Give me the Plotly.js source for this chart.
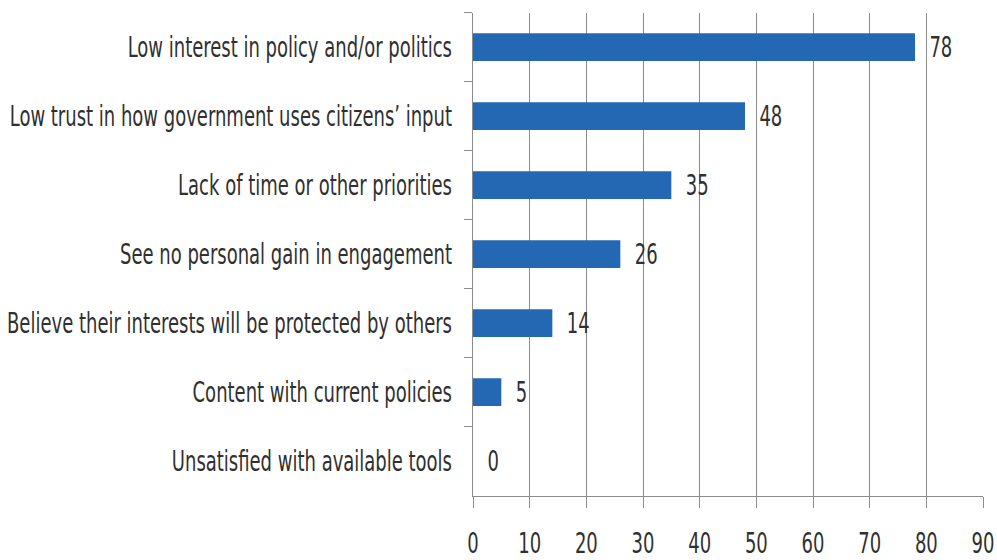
<!DOCTYPE html>
<html>
<head>
<meta charset="utf-8">
<script src="https://cdn.plot.ly/plotly-3.0.1.min.js"></script>
<style>
html,body{margin:0;padding:0;background:#fff;}
html{overflow:hidden;}
body{width:997px;height:560px;}
#chart{width:997px;height:400px;transform:scaleY(1.4);transform-origin:0 0;}
</style>
</head>
<body>
<div id="chart"></div>
<script>
var categories = [
  "Low interest in policy and/or politics",
  "Low trust in how government uses citizens’ input",
  "Lack of time or other priorities",
  "See no personal gain in engagement",
  "Believe their interests will be protected by others",
  "Content with current policies",
  "Unsatisfied with available tools"
];
var values = [78, 48, 35, 26, 14, 5, 0];
var xTicks = [0, 10, 20, 30, 40, 50, 60, 70, 80, 90];

var FONT = '"DejaVu Sans Condensed", "Liberation Sans Narrow", "Open Sans", sans-serif';
var TXT = '#303030';
var LINE = '#8c8c8c';

var trace = {
  type: 'bar',
  orientation: 'h',
  y: categories,
  x: values,
  text: values.map(function(v){ return '\u00a0\u00a0' + v; }),
  textposition: 'outside',
  constraintext: 'none',
  cliponaxis: false,
  textfont: {family: FONT, size: 20, color: TXT},
  marker: {color: '#2468B4', line: {width: 0}},
  hoverinfo: 'none'
};

var layout = {
  width: 997,
  height: 400,
  margin: {l: 473, r: 14, t: 8.6, b: 45.7},
  paper_bgcolor: '#ffffff',
  plot_bgcolor: '#ffffff',
  showlegend: false,
  bargap: 0.6,
  font: {family: FONT, size: 20, color: TXT},
  xaxis: {
    range: [0, 90],
    tickvals: xTicks,
    ticktext: xTicks.map(String),
    showgrid: true,
    gridcolor: LINE,
    gridwidth: 1,
    zeroline: false,
    showline: true,
    linecolor: LINE,
    linewidth: 1,
    ticks: 'outside',
    ticklen: 8,
    tickcolor: LINE,
    ticklabelstandoff: 8,
    tickfont: {family: FONT, size: 20, color: TXT},
    fixedrange: true
  },
  yaxis: {
    type: 'category',
    autorange: 'reversed',
    showline: true,
    linecolor: LINE,
    linewidth: 1,
    showgrid: false,
    zeroline: false,
    ticks: 'outside',
    tickson: 'boundaries',
    ticklen: 8,
    tickcolor: LINE,
    ticklabelstandoff: 16,
    tickfont: {family: FONT, size: 20, color: TXT},
    fixedrange: true
  }
};

Plotly.newPlot('chart', [trace], layout, {displayModeBar: false, staticPlot: true});
</script>
</body>
</html>
